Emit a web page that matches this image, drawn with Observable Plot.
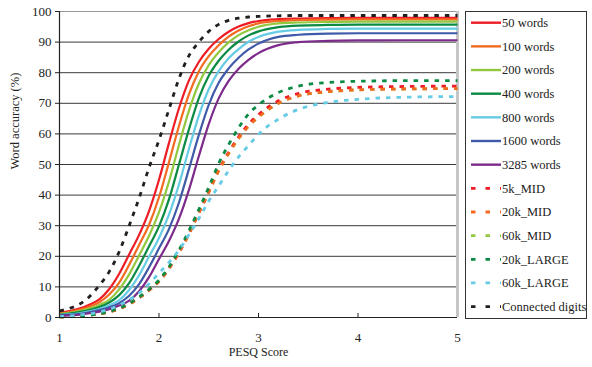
<!DOCTYPE html>
<html>
<head>
<meta charset="utf-8">
<script src="https://cdn.jsdelivr.net/npm/d3@7"></script>
<script src="https://cdn.jsdelivr.net/npm/@observablehq/plot@0.6"></script>
<style>
  html, body { margin: 0; padding: 0; background: #fff; }
  #chart { width: 592px; height: 367px; }
</style>
</head>
<body>
<div id="chart"></div>
<script>
// PESQ score sample points (shared x grid)
const pesq = [1.0,1.1,1.2,1.3,1.4,1.5,1.6,1.7,1.8,1.9,2.0,2.1,2.2,2.3,2.4,2.5,2.6,2.7,2.8,2.9,3.0,3.2,3.4,3.7,4.0,4.5,5.0];

// Word accuracy (%) per series
const words50   = [1.5,2.1,2.9,4.2,5.9,9.3,14.3,20.6,27.0,34.8,45.0,57.0,68.3,77.4,83.5,87.8,91.0,93.4,95.1,96.2,96.9,97.5,97.7,97.85,97.9,97.9,97.9];
const words100  = [1.3,1.8,2.5,3.5,5.0,7.5,11.4,17.2,23.7,30.3,39.3,50.7,62.5,72.8,80.4,85.4,89.0,91.8,93.8,95.2,96.1,96.9,97.2,97.35,97.4,97.4,97.4];
const words200  = [1.1,1.5,2.1,2.9,4.1,5.8,9.2,14.1,20.3,26.7,34.4,44.4,56.3,67.5,76.4,82.5,86.7,89.9,92.3,93.9,95.0,96.1,96.4,96.6,96.7,96.7,96.7];
const words400  = [0.9,1.3,1.8,2.4,3.4,4.9,7.3,11.2,16.9,23.3,29.8,38.6,49.9,61.4,71.6,79.0,83.9,87.5,90.2,92.2,93.5,94.9,95.4,95.6,95.7,95.7,95.7];
const words800  = [0.8,1.0,1.4,2.0,2.8,4.0,5.7,9.0,13.8,19.9,26.0,33.6,43.4,55.0,65.9,74.6,80.5,84.7,87.7,90.1,91.7,93.4,94.0,94.3,94.4,94.4,94.4];
const words1600 = [0.7,0.9,1.1,1.7,2.4,3.3,4.7,7.1,10.9,16.4,22.6,28.9,37.5,48.4,59.6,69.5,76.7,81.4,84.9,87.6,89.5,91.7,92.4,92.8,92.9,92.9,92.9];
const words3285 = [0.5,0.7,0.9,1.4,1.9,2.7,3.9,5.5,8.6,13.2,19.1,25.0,32.2,41.6,52.7,63.2,71.6,77.3,81.3,84.2,86.4,89.0,90.0,90.4,90.55,90.6,90.6];
const mid5k     = [0.2,0.3,0.5,0.8,1.2,1.9,2.9,4.4,6.4,8.9,11.8,16.0,21.2,27.3,34.2,41.0,48.2,54.0,59.0,63.2,66.3,70.8,73.2,74.6,75.2,75.5,75.6];
const mid20k    = [0.2,0.3,0.5,0.8,1.2,1.9,2.9,4.4,6.4,8.9,11.8,16.0,21.2,27.3,34.2,41.0,48.0,53.6,58.5,62.5,65.5,70.0,72.4,73.8,74.4,74.7,74.8];
const mid60k    = [0.2,0.3,0.5,0.8,1.2,1.9,2.9,4.4,6.4,8.9,11.8,16.0,21.2,27.3,34.2,41.0,48.0,53.6,58.5,62.5,65.5,70.0,72.4,73.8,74.4,74.7,74.8];
const large20k  = [0.2,0.3,0.5,0.8,1.2,2.0,3.0,4.6,6.7,9.2,12.2,16.5,22.0,28.3,35.3,42.5,50.3,56.5,62.0,66.5,69.5,73.5,75.6,76.8,77.2,77.4,77.4];
const large60k  = [0.3,0.5,0.8,1.2,1.8,2.7,4.0,5.8,8.0,11.0,14.5,18.0,22.0,27.0,32.3,38.0,43.0,48.0,52.5,56.2,59.9,64.8,68.0,70.3,71.3,72.0,72.2];
const connected = [2.2,3.0,4.3,6.8,10.5,15.0,21.5,30.0,39.0,49.0,58.0,68.0,78.0,85.5,90.0,93.5,95.8,97.1,97.8,98.2,98.4,98.6,98.7,98.7,98.7,98.7,98.7];

const seriesNames = ["50 words","100 words","200 words","400 words","800 words","1600 words","3285 words","5k_MID","20k_MID","60k_MID","20k_LARGE","60k_LARGE","Connected digits"];
const seriesValues = [words50,words100,words200,words400,words800,words1600,words3285,mid5k,mid20k,mid60k,large20k,large60k,connected];
const seriesColors = ["#ee1c25","#f36b21","#92c83e","#0b8a43","#66cbe4","#3f5aa8","#7d2b8b","#ee1c25","#f36b21","#92c83e","#0b8a43","#66cbe4","#231f20"];
const seriesDashed = [false,false,false,false,false,false,false,true,true,true,true,true,true];
const drawOrder = [0,1,2,3,4,5,6,9,7,8,10,11,12];

const yTicks = [0,10,20,30,40,50,60,70,80,90,100];
const xTicks = [1,2,3,4,5];
const xTitle = "PESQ Score";
const yTitle = "Word accuracy (%)";
const FONT = "'Liberation Serif', 'Times New Roman', Times, serif";

const series = seriesNames.map((name, i) => ({
  name, color: seriesColors[i], dashed: seriesDashed[i],
  data: pesq.map((x, j) => ({x, y: seriesValues[i][j]}))
}));

const lineMarks = drawOrder.map(i => {
  const s = series[i];
  return Plot.line(s.data, {
    x: "x", y: "y", stroke: s.color, curve: "monotone-x",
    strokeWidth: s.dashed ? 2.8 : 2.2,
    strokeDasharray: s.dashed ? "4.5,6" : null,
    strokeLinecap: "butt"
  });
});

const svg = Plot.plot({
  width: 592, height: 367,
  marginLeft: 59, marginRight: 135, marginTop: 11, marginBottom: 50,
  style: `font-family: ${FONT}; font-size: 13px; background: #fff; color: #222;`,
  x: {domain: [1, 5]},
  y: {domain: [0, 100]},
  marks: [
    Plot.gridY(yTicks, {stroke: "#3a3a3a", strokeOpacity: 1, strokeWidth: 1}),
    Plot.ruleY([100], {stroke: "#999", strokeWidth: 1.2}),
    Plot.ruleX([5], {stroke: "#c6c6c6", strokeWidth: 3}),
    ...lineMarks,
    Plot.ruleX([1], {stroke: "#222", strokeWidth: 1.2}),
    Plot.ruleY([0], {stroke: "#222", strokeWidth: 1.2}),
    Plot.axisY(yTicks, {tickSize: 4, tickPadding: 4, label: null, fontSize: 13}),
    Plot.axisX(xTicks.slice(1, 4), {tickSize: -4, tickFormat: () => "", label: null}),
    Plot.axisX(xTicks, {tickSize: 0, tickPadding: 15, label: null, fontSize: 13}),
    Plot.text([xTitle], {frameAnchor: "bottom", dy: 38, fontSize: 12, fill: "#222"}),
    Plot.text([yTitle], {frameAnchor: "left", dx: -45, dy: 5, rotate: -90, fontSize: 12.5, fill: "#222"})
  ]
});

// Legend box, built from the series arrays
const g = d3.select(svg).append("g")
  .attr("font-size", 12.5).attr("text-anchor", "start");
g.append("rect").attr("x", 465.5).attr("y", 11.5).attr("width", 121).attr("height", 307)
  .attr("fill", "#fff").attr("stroke", "#333").attr("stroke-width", 1);
series.forEach((s, i) => {
  const y = 22.7 + i * 23.66;
  g.append("line").attr("x1", 471).attr("x2", 501).attr("y1", y).attr("y2", y)
    .attr("stroke", s.color).attr("stroke-width", s.dashed ? 2.8 : 2.4)
    .attr("stroke-dasharray", s.dashed ? "4.5,10" : null);
  g.append("text").attr("x", 502).attr("y", y).attr("dy", "0.35em")
    .attr("text-anchor", "start").attr("fill", "#222").text(s.name);
});

svg.setAttribute("font-family", FONT);
svg.querySelectorAll("g[font-family], text").forEach(el => el.setAttribute("font-family", FONT));

document.getElementById("chart").appendChild(svg);
</script>
</body>
</html>
